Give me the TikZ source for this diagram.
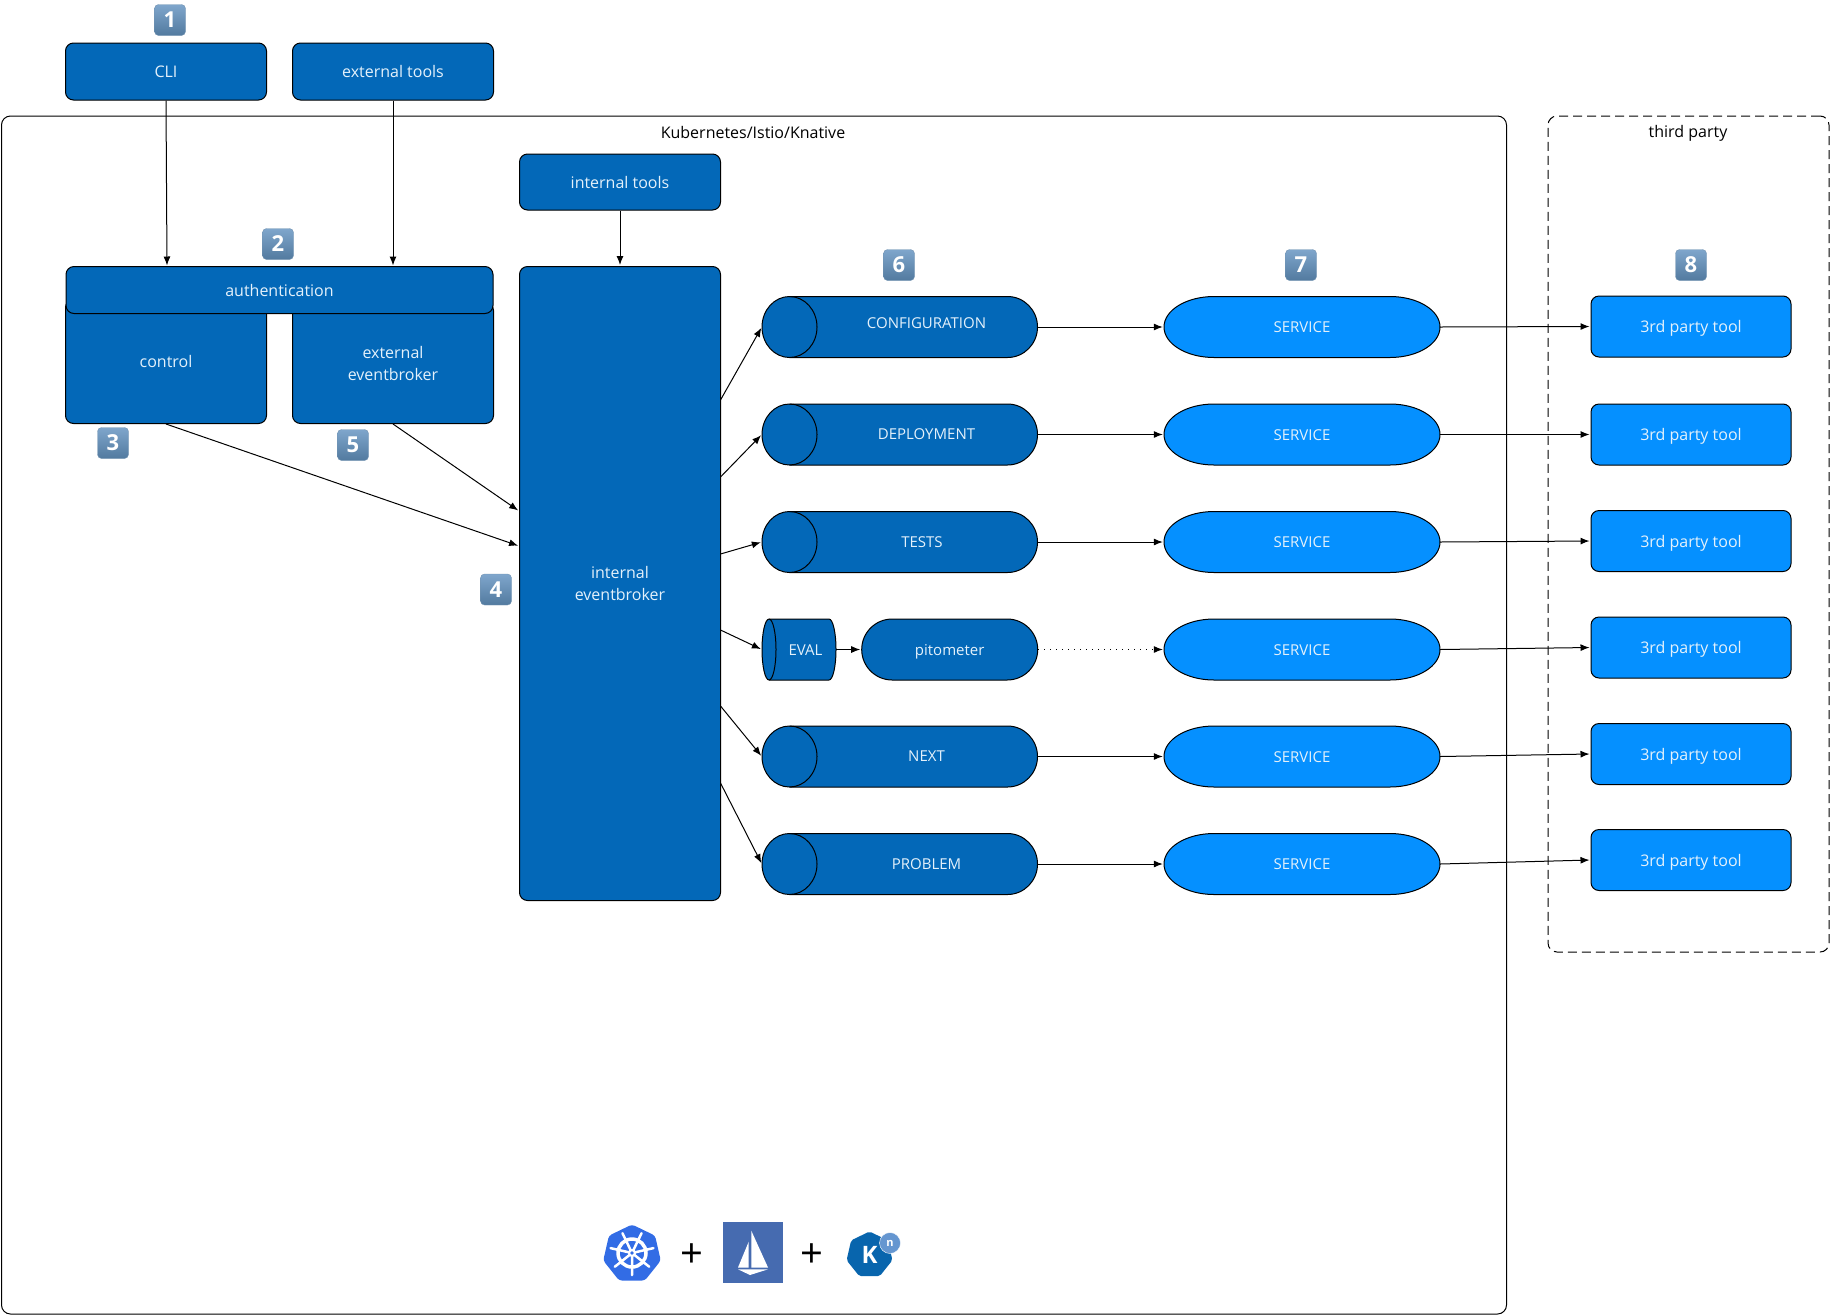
\documentclass[tikz,border=0pt]{standalone}
\usepackage{fontspec}
\setmainfont{Open Sans}
\usepackage{xcolor}
\usepackage{tikz}
\usetikzlibrary{arrows.meta, shapes.geometric}
\definecolor{darkBlue}{HTML}{0368B8}
\definecolor{lightBlue}{HTML}{0590FF}
\definecolor{boxText}{HTML}{E4F1FB}
\definecolor{badgeTop}{HTML}{7FA6CC}
\definecolor{badgeBottom}{HTML}{527A9F}
\definecolor{wheelBlue}{HTML}{326CE5}
\definecolor{sailBlue}{HTML}{466BB0}
\definecolor{knativeBlue}{HTML}{0865AD}
\definecolor{knativeLight}{HTML}{6596D0}
\newcommand{\serviceNode}[2]{
    \draw[line width=1pt, fill=lightBlue] (1214,#2-30.5) -- (1390,#2-30.5)
        arc[start angle=90, end angle=-90, x radius=50pt, y radius=30.5pt] -- (1214,#2+30.5)
        arc[start angle=270, end angle=90, x radius=50pt, y radius=30.5pt] -- cycle;
    \node[smallText, inner sep=0pt, minimum width=276pt, minimum height=61pt] (#1) at (1302,#2) {SERVICE};
}
\newcommand{\stackNode}[4]{
    \draw[line width=1pt, fill=darkBlue] (789.5,#4-30.5) -- (1007.5,#4-30.5)
        arc[start angle=90, end angle=-90, x radius=30pt, y radius=30.5pt] -- (789.5,#4+30.5)
        arc[start angle=270, end angle=90, x radius=27.5pt, y radius=30.5pt] -- cycle;
    \draw[line width=1pt] (789.5,#4-30.5) arc[start angle=90, end angle=-90, x radius=27.5pt, y radius=30.5pt];
    \node[inner sep=0pt, minimum width=276pt, minimum height=61pt] (#1) at (900,#4) {};
    \node[smallText] (#1Text) at (#3) {#2};
}

\begin{document}
\begin{tikzpicture}[x=1pt, y=-1pt,
    >={Latex[length=9pt, width=7pt]},
    flow/.style={->, line width=1pt, shorten >=1pt},
    mainText/.style={text=boxText, font=\fontsize{16}{22}\selectfont, align=center, text height=14.5pt, text depth=2.5pt},
    smallText/.style={text=boxText, font=\fontsize{15}{20}\selectfont, align=center, text height=13.5pt, text depth=2.5pt},
    twoLines/.style={text height=, text depth=},
    darkBox/.style={draw, line width=1pt, fill=darkBlue, rounded corners=8pt, mainText, minimum width=201pt},
    lightBox/.style={draw, line width=1pt, fill=lightBlue, rounded corners=8pt, mainText, minimum width=200pt, minimum height=61pt},
    stadiumBox/.style={draw, line width=1pt, fill=darkBlue, rounded corners=30.5pt, smallText, minimum width=176pt, minimum height=61pt},
    groupBox/.style={draw, line width=1pt, rounded corners=9pt},
    groupText/.style={font=\fontsize{16}{20}\selectfont},
    badge/.style={rounded corners=4pt, top color=badgeTop, bottom color=badgeBottom, draw=badgeBottom!80, text=white, inner sep=0pt, minimum size=31pt, font=\fontsize{22}{24}\selectfont\bfseries}]
    \useasboundingbox (0,0) rectangle (1830,1315);

    \node[groupBox, minimum width=1505pt, minimum height=1198pt] (cluster) at (754,715) {};
    \node[groupText] (clusterTitle) at (753,132) {Kubernetes/Istio/Knative};
    \node[groupBox, dash pattern=on 9pt off 5pt, minimum width=281pt, minimum height=836pt] (thirdParty) at (1688.5,534) {};
    \node[groupText] (thirdPartyTitle) at (1688,133.5) {third party};

    \node[darkBox, minimum height=57pt] (cli) at (166,71.5) {CLI};
    \node[darkBox, minimum height=57pt] (externalTools) at (393,71.5) {external tools};
    \node[darkBox, minimum height=56pt] (internalTools) at (620,182) {internal tools};

    \node[darkBox, minimum height=124pt] (control) at (166,361.5) {control};
    \node[darkBox, twoLines, minimum height=121pt] (externalBroker) at (393,363) {external\\eventbroker};
    \node[darkBox, minimum width=427pt, minimum height=47pt] (authentication) at (279.5,290) {authentication};
    \node[darkBox, twoLines, minimum height=634pt] (internalBroker) at (620,583.5) {internal\\eventbroker};

    \stackNode{configuration}{CONFIGURATION}{926.5,323}{327}
    \stackNode{deployment}{DEPLOYMENT}{926.5,434}{434.5}
    \stackNode{tests}{TESTS}{922,541.5}{542}
    \stackNode{next}{NEXT}{926.5,756}{756.5}
    \stackNode{problem}{PROBLEM}{926.5,864}{864}

    \draw[line width=1pt, fill=darkBlue] (769,619) -- (829,619)
        arc[start angle=90, end angle=-90, x radius=7pt, y radius=30.5pt] -- (769,680)
        arc[start angle=270, end angle=90, x radius=7pt, y radius=30.5pt] -- cycle;
    \draw[line width=1pt] (769,619) arc[start angle=90, end angle=-90, x radius=7pt, y radius=30.5pt];
    \node[inner sep=0pt, minimum width=74pt, minimum height=61pt] (eval) at (799,649.5) {};
    \node[smallText] (evalText) at (805.5,649.5) {EVAL};
    \node[stadiumBox] (pitometer) at (949.7,649.5) {pitometer};

    \serviceNode{serviceA}{327}
    \serviceNode{serviceB}{434.5}
    \serviceNode{serviceC}{542}
    \serviceNode{serviceD}{649.5}
    \serviceNode{serviceE}{756.5}
    \serviceNode{serviceF}{864}

    \node[lightBox] (toolA) at (1691,326.5) {3rd party tool};
    \node[lightBox] (toolB) at (1691,434.5) {3rd party tool};
    \node[lightBox] (toolC) at (1691,541) {3rd party tool};
    \node[lightBox] (toolD) at (1691,647.5) {3rd party tool};
    \node[lightBox] (toolE) at (1691,754) {3rd party tool};
    \node[lightBox] (toolF) at (1691,860) {3rd party tool};

    \node[badge] (badgeOne) at (170,20) {1};
    \node[badge] (badgeTwo) at (278,244) {2};
    \node[badge] (badgeThree) at (113,443) {3};
    \node[badge] (badgeFour) at (496,589.5) {4};
    \node[badge] (badgeFive) at (353,445) {5};
    \node[badge] (badgeSix) at (899,265) {6};
    \node[badge] (badgeSeven) at (1301,265) {7};
    \node[badge] (badgeEight) at (1691,265) {8};

    \coordinate (authCli) at (167,266.5);
    \coordinate (authTools) at (393,266.5);
    \coordinate (brokerControl) at (519,546);
    \coordinate (brokerExternal) at (519,511);
    \coordinate (brokerOutA) at (720.5,400);
    \coordinate (brokerOutB) at (720.5,477);
    \coordinate (brokerOutC) at (720.5,554);
    \coordinate (brokerOutD) at (720.5,630);
    \coordinate (brokerOutE) at (720.5,706);
    \coordinate (brokerOutF) at (720.5,783);

    \draw[flow] (cli.south) -- (authCli);
    \draw[flow] (externalTools.south) -- (authTools);
    \draw[flow] (internalTools.south) -- (internalBroker.north);
    \draw[flow] (control.south) -- (brokerControl);
    \draw[flow] (externalBroker.south) -- (brokerExternal);
    \draw[flow] (brokerOutA) -- (configuration.west);
    \draw[flow] (brokerOutB) -- (deployment.west);
    \draw[flow] (brokerOutC) -- (tests.west);
    \draw[flow] (brokerOutD) -- (eval.west);
    \draw[flow] (brokerOutE) -- (next.west);
    \draw[flow] (brokerOutF) -- (problem.west);
    \draw[flow] (configuration.east) -- (serviceA.west);
    \draw[flow] (deployment.east) -- (serviceB.west);
    \draw[flow] (tests.east) -- (serviceC.west);
    \draw[flow] (eval.east) -- (pitometer.west);
    \draw[flow, dash pattern=on 1pt off 5pt] (pitometer.east) -- (serviceD.west);
    \draw[flow] (next.east) -- (serviceE.west);
    \draw[flow] (problem.east) -- (serviceF.west);
    \draw[flow] (serviceA.east) -- (toolA.west);
    \draw[flow] (serviceB.east) -- (toolB.west);
    \draw[flow] (serviceC.east) -- (toolC.west);
    \draw[flow] (serviceD.east) -- (toolD.west);
    \draw[flow] (serviceE.east) -- (toolE.west);
    \draw[flow] (serviceF.east) -- (toolF.west);

    \node[regular polygon, regular polygon sides=7, fill=wheelBlue, rounded corners=3pt, inner sep=0pt, minimum size=59pt] (kubernetesLogo) at (632,1254) {};
    \draw[white, line width=3.5pt] (632,1253) circle[radius=14pt];
    \draw[white, line width=2.5pt, line cap=round]
        (632,1253) -- +(90:22) (632,1253) -- +(38.6:22) (632,1253) -- +(-12.9:22) (632,1253) -- +(-64.3:22)
        (632,1253) -- +(141.4:22) (632,1253) -- +(192.9:22) (632,1253) -- +(244.3:22);
    \fill[white] (632,1253) circle[radius=4pt];
    \fill[wheelBlue] (632,1253) circle[radius=1.8pt];

    \node[font=\fontsize{40}{40}\selectfont] (plusLeft) at (692,1256) {+};
    \node[font=\fontsize{40}{40}\selectfont] (plusRight) at (812,1256) {+};

    \fill[sailBlue] (722.7,1222) rectangle (783,1282.7);
    \fill[white] (748.7,1241.7) -- (748.7,1267.5) -- (738,1267.5) -- cycle;
    \fill[white] (751.3,1230.7) -- (768,1267.5) -- (751.3,1267.5) -- cycle;
    \fill[white] (738,1269.3) -- (768,1269.3) -- (750,1275) -- cycle;

    \node[regular polygon, regular polygon sides=7, fill=knativeBlue, rounded corners=2pt, inner sep=0pt, minimum size=47pt, text=white, font=\fontsize{24}{24}\selectfont\bfseries] (knativeLogo) at (869.5,1255) {K};
    \node[circle, fill=knativeLight, draw=white, inner sep=0pt, minimum size=21pt, text=white, font=\fontsize{11}{12}\selectfont\bfseries] (knativeBadge) at (890,1243) {n};
\end{tikzpicture}
\end{document}
